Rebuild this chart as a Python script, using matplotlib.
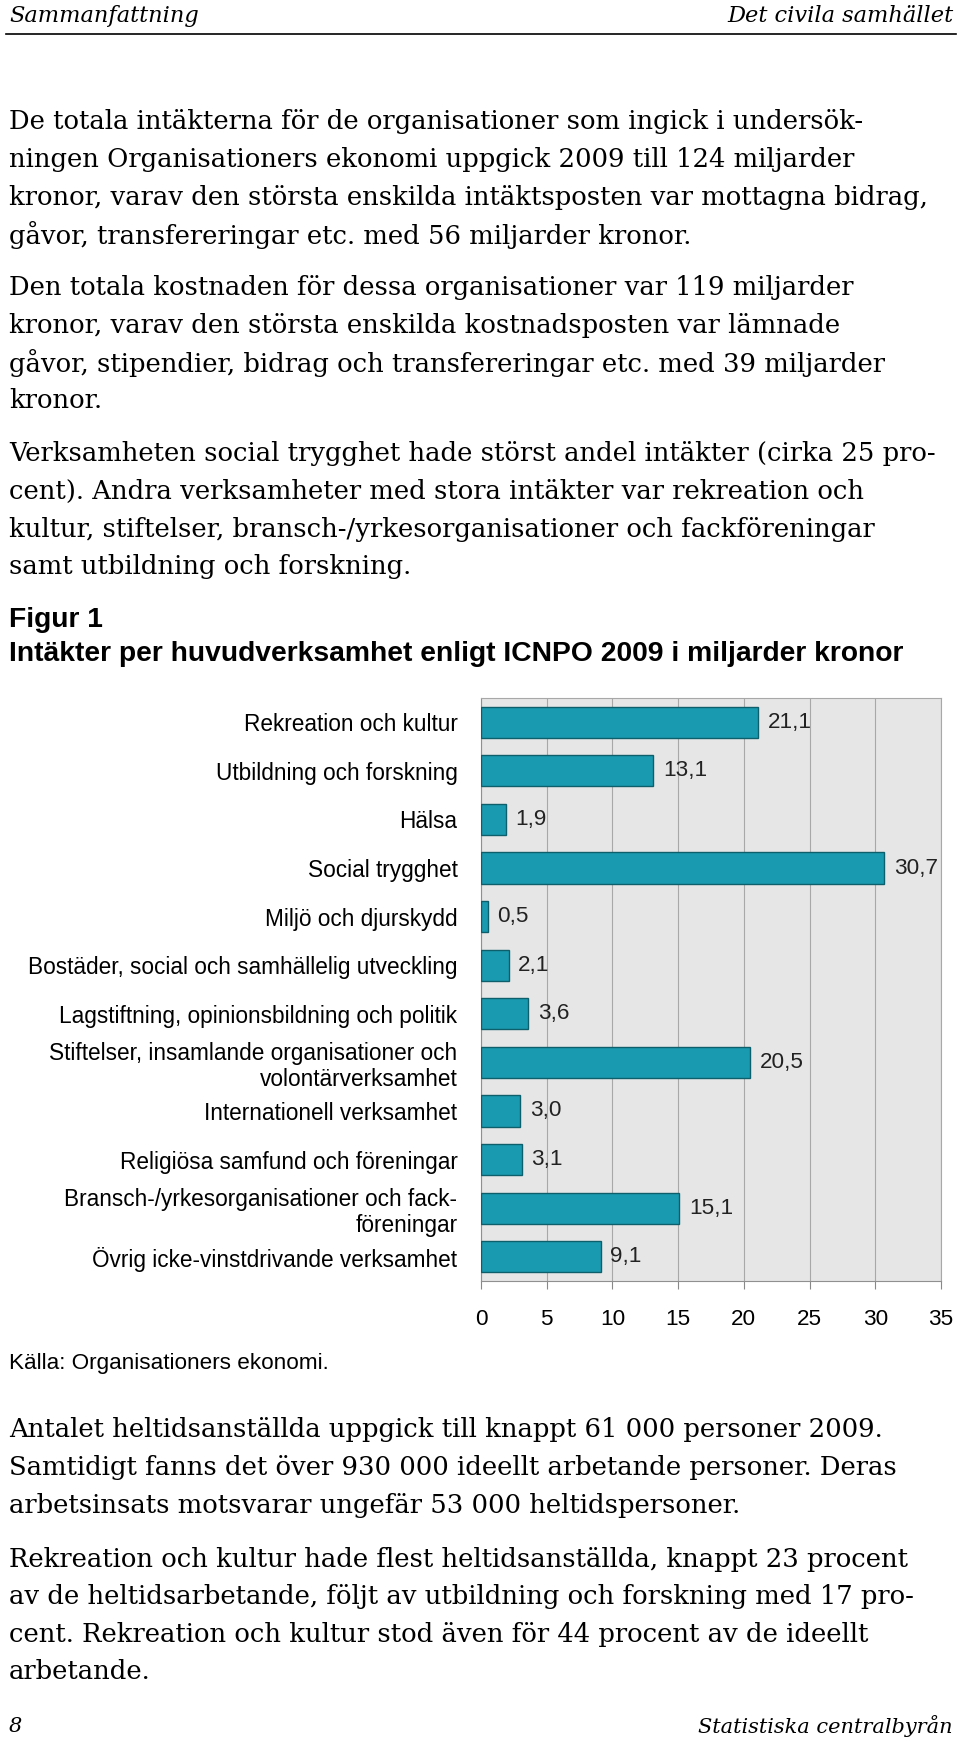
import matplotlib.pyplot as plt
import numpy as np

W, H = 960, 1746

# chart data
categories = [
	"Rekreation och kultur",
	"Utbildning och forskning",
	"Hälsa",
	"Social trygghet",
	"Miljö och djurskydd",
	"Bostäder, social och samhällelig utveckling",
	"Lagstiftning, opinionsbildning och politik",
	"Stiftelser, insamlande organisationer och\nvolontärverksamhet",
	"Internationell verksamhet",
	"Religiösa samfund och föreningar",
	"Bransch-/yrkesorganisationer och fack-\nföreningar",
	"Övrig icke-vinstdrivande verksamhet",
]
values = [21.1, 13.1, 1.9, 30.7, 0.5, 2.1, 3.6, 20.5, 3.0, 3.1, 15.1, 9.1]
x_ticks = [0, 5, 10, 15, 20, 25, 30, 35]

# page text
header_left = "Sammanfattning"
header_right = "Det civila samhället"
para1 = [
	"De totala intäkterna för de organisationer som ingick i undersök-",
	"ningen Organisationers ekonomi uppgick 2009 till 124 miljarder",
	"kronor, varav den största enskilda intäktsposten var mottagna bidrag,",
	"gåvor, transfereringar etc. med 56 miljarder kronor.",
]
para2 = [
	"Den totala kostnaden för dessa organisationer var 119 miljarder",
	"kronor, varav den största enskilda kostnadsposten var lämnade",
	"gåvor, stipendier, bidrag och transfereringar etc. med 39 miljarder",
	"kronor.",
]
para3 = [
	"Verksamheten social trygghet hade störst andel intäkter (cirka 25 pro-",
	"cent). Andra verksamheter med stora intäkter var rekreation och",
	"kultur, stiftelser, bransch-/yrkesorganisationer och fackföreningar",
	"samt utbildning och forskning.",
]
fig_label = "Figur 1"
fig_title = "Intäkter per huvudverksamhet enligt ICNPO 2009 i miljarder kronor"
source = "Källa: Organisationers ekonomi."
para4 = [
	"Antalet heltidsanställda uppgick till knappt 61 000 personer 2009.",
	"Samtidigt fanns det över 930 000 ideellt arbetande personer. Deras",
	"arbetsinsats motsvarar ungefär 53 000 heltidspersoner.",
]
para5 = [
	"Rekreation och kultur hade flest heltidsanställda, knappt 23 procent",
	"av de heltidsarbetande, följt av utbildning och forskning med 17 pro-",
	"cent. Rekreation och kultur stod även för 44 procent av de ideellt",
	"arbetande.",
]
page_no = "8"
footer_right = "Statistiska centralbyrån"

SERIF = "DejaVu Serif"
SANS = "Liberation Sans"

fig = plt.figure(figsize=(W / 100, H / 100), dpi=100)
fig.patch.set_facecolor("white")

def fy(py):
	# pixel row (from top) to figure fraction
	return 1 - py / H

def fx(px):
	return px / W

def put(px, py, s, **kw):
	kw.setdefault("va", "center")
	fig.text(fx(px), fy(py), s, **kw)

def paragraph(lines, y0, step=37.6):
	for i, line in enumerate(lines):
		put(9, y0 + i * step, line, family=SERIF, fontsize=18.6)

# header
put(9, 16, header_left, family=SERIF, style="italic", fontsize=16.2)
put(953, 16, header_right, family=SERIF, style="italic", fontsize=16.2, ha="right")
fig.add_artist(plt.Line2D([fx(6), fx(956)], [fy(34), fy(34)], color="black", lw=1.2))

paragraph(para1, 122)
paragraph(para2, 288)
paragraph(para3, 454)

put(9, 620, fig_label, family=SANS, weight="bold", fontsize=20.3)
put(9, 654, fig_title, family=SANS, weight="bold", fontsize=20.3)

# bar chart
ax = fig.add_axes([fx(481), fy(1281), fx(941) - fx(481), fy(698) - fy(1281)])
ax.set_facecolor("#e6e6e6")
y = np.arange(len(categories))
ax.barh(y, values, height=0.64, color="#1a9ab0", edgecolor="#0e5f6c", linewidth=1, zorder=3)
for yi, v in zip(y, values):
	ax.annotate(f"{v:.1f}".replace(".", ","), (v, yi), xytext=(7, 0), textcoords="offset points",
		va="center", ha="left", family=SANS, fontsize=16.2, color="#222222", zorder=4)
ax.set_xlim(0, 35)
ax.set_ylim(len(categories) - 0.5, -0.5)
ax.set_xticks(x_ticks)
ax.set_xticklabels([str(t) for t in x_ticks], family=SANS, fontsize=16.2)
ax.set_yticks(y)
ax.set_yticklabels(categories, family=SANS, fontsize=16.3)
ax.tick_params(axis="y", length=0, pad=17)
ax.tick_params(axis="x", length=6, width=0.8, color="#888888", pad=14)
ax.grid(axis="x", color="#a8a8a8", lw=0.8, zorder=1)
for side in ["top", "right"]:
	ax.spines[side].set_color("#a8a8a8")
ax.spines["left"].set_color("#909090")
ax.spines["bottom"].set_color("#909090")
for lbl in ax.get_yticklabels():
	lbl.set_multialignment("right")

put(9, 1363, source, family=SANS, fontsize=16.2)

paragraph(para4, 1430)
paragraph(para5, 1559)

put(9, 1726, page_no, family=SERIF, style="italic", fontsize=15)
put(953, 1726, footer_right, family=SERIF, style="italic", fontsize=15, ha="right")

fig.savefig("out.png", dpi=100)
